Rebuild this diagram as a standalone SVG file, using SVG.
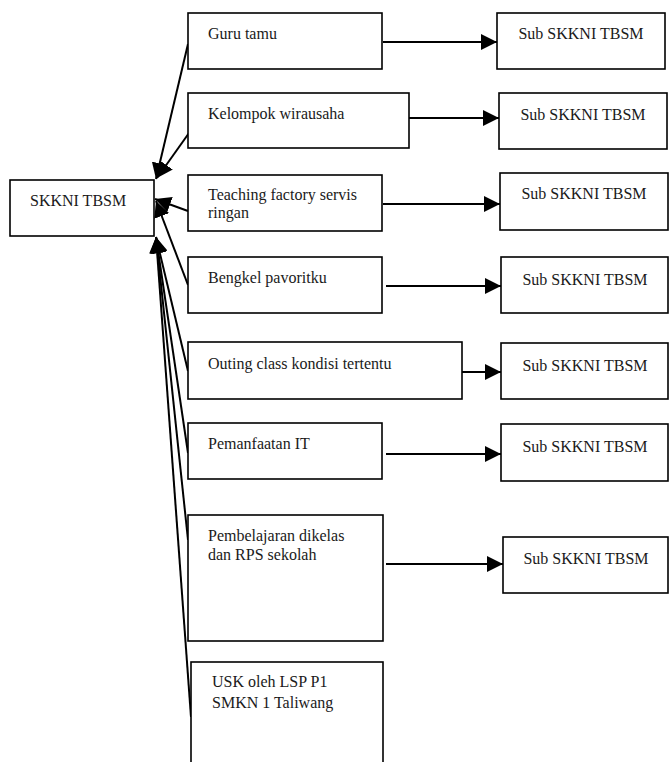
<svg xmlns="http://www.w3.org/2000/svg" width="670" height="762" viewBox="0 0 670 762">
<style>
.box{fill:#fff;stroke:#000;stroke-width:1.6}
.t{font-family:"Liberation Serif","Times New Roman",serif;font-size:16px;fill:#1a1a1a}
.c{text-anchor:middle}
.ln{stroke:#000;stroke-width:2;fill:none;marker-end:url(#ah)}
</style>
<defs>
<marker id="ah" markerUnits="userSpaceOnUse" markerWidth="18" markerHeight="16" refX="16" refY="8" orient="auto">
<path d="M0,0 L16,8 L0,16 z" fill="#000"/>
</marker>
</defs>
<rect width="670" height="762" fill="#fff"/>
<g id="connectors">
<line class="ln" x1="188" y1="44" x2="156" y2="179"/>
<line class="ln" x1="189" y1="133" x2="157" y2="178"/>
<line class="ln" x1="188" y1="211" x2="155" y2="199"/>
<line class="ln" x1="188" y1="285" x2="156" y2="201"/>
<line class="ln" x1="188" y1="371" x2="156" y2="237"/>
<line class="ln" x1="188" y1="453" x2="156" y2="237"/>
<line class="ln" x1="188" y1="540" x2="156" y2="237"/>
<line class="ln" x1="191" y1="717" x2="156" y2="237"/>
<line class="ln" x1="383" y1="42" x2="497" y2="42"/>
<line class="ln" x1="409" y1="118" x2="499" y2="118"/>
<line class="ln" x1="383" y1="204" x2="500" y2="204"/>
<line class="ln" x1="386" y1="286" x2="501" y2="286"/>
<line class="ln" x1="462" y1="372" x2="501" y2="372"/>
<line class="ln" x1="386" y1="454" x2="501" y2="454"/>
<line class="ln" x1="386" y1="564" x2="503" y2="564"/>
</g>
<g id="skkni">
<rect class="box" x="10" y="180" width="144" height="56"/>
<text class="t" x="30" y="206">SKKNI TBSM</text>
</g>
<g id="guru">
<rect class="box" x="188" y="13" width="194" height="56"/>
<text class="t" x="208" y="39">Guru tamu</text>
</g>
<g id="kelompok">
<rect class="box" x="188" y="93" width="221" height="55"/>
<text class="t" x="208" y="119">Kelompok wirausaha</text>
</g>
<g id="teaching">
<rect class="box" x="188" y="175" width="194" height="56"/>
<text class="t" x="208" y="200">Teaching factory servis</text>
<text class="t" x="208" y="218">ringan</text>
</g>
<g id="bengkel">
<rect class="box" x="188" y="257" width="194" height="56"/>
<text class="t" x="208" y="283">Bengkel pavoritku</text>
</g>
<g id="outing">
<rect class="box" x="188" y="342" width="274" height="57"/>
<text class="t" x="208" y="369">Outing class kondisi tertentu</text>
</g>
<g id="pemanfaatan">
<rect class="box" x="188" y="423" width="194" height="56"/>
<text class="t" x="208" y="449">Pemanfaatan IT</text>
</g>
<g id="pembelajaran">
<rect class="box" x="188" y="515" width="195" height="126"/>
<text class="t" x="208" y="541">Pembelajaran dikelas</text>
<text class="t" x="208" y="560">dan RPS sekolah</text>
</g>
<g id="usk">
<rect class="box" x="191" y="662" width="192" height="130"/>
<text class="t" x="212" y="687">USK oleh LSP P1</text>
<text class="t" x="212" y="708">SMKN 1 Taliwang</text>
</g>
<g id="sub1">
<rect class="box" x="497" y="13" width="168" height="56"/>
<text class="t c" x="581" y="39">Sub SKKNI TBSM</text>
</g>
<g id="sub2">
<rect class="box" x="499" y="93" width="168" height="56"/>
<text class="t c" x="583" y="120">Sub SKKNI TBSM</text>
</g>
<g id="sub3">
<rect class="box" x="500" y="173" width="168" height="57"/>
<text class="t c" x="584" y="199">Sub SKKNI TBSM</text>
</g>
<g id="sub4">
<rect class="box" x="501" y="257" width="167" height="56"/>
<text class="t c" x="585" y="285">Sub SKKNI TBSM</text>
</g>
<g id="sub5">
<rect class="box" x="501" y="343" width="167" height="56"/>
<text class="t c" x="585" y="371">Sub SKKNI TBSM</text>
</g>
<g id="sub6">
<rect class="box" x="501" y="424" width="167" height="57"/>
<text class="t c" x="585" y="452">Sub SKKNI TBSM</text>
</g>
<g id="sub7">
<rect class="box" x="503" y="537" width="165" height="56"/>
<text class="t c" x="586" y="564">Sub SKKNI TBSM</text>
</g>
</svg>
